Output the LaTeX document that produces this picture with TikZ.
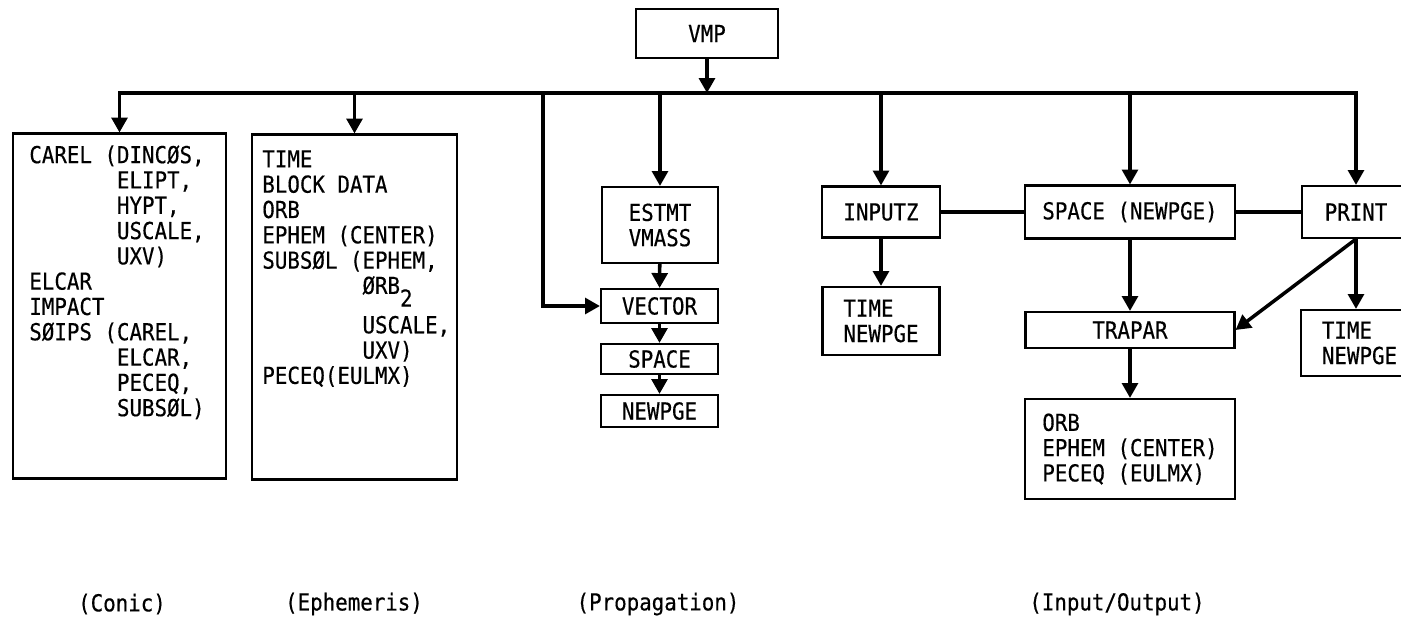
\documentclass[tikz,border=0pt]{standalone}
\usepackage{fontspec}
\usepackage{tikz}
\usetikzlibrary{arrows.meta}
\newfontfamily\vmpmono[FakeStretch=0.89,FakeBold=0.4]{DejaVu Sans Mono}
\newcommand\vmptext{\vmpmono\fontsize{13.3}{14.4}\selectfont\lineskiplimit=-20pt}
\tikzset{
  box/.style={draw, line width=1.2pt, rectangle, inner sep=0pt, font=\vmptext, align=left},
  listtxt/.style={inner sep=0pt, font=\vmptext, align=left, anchor=north west},
  flow/.style={line width=2pt, -{Triangle[length=8.5pt,width=9pt]}},
  link/.style={line width=2pt, line cap=rect},
}

\begin{document}
\begin{tikzpicture}[x=0.02cm, y=-0.02cm]
  \path[fill=white, use as bounding box] (0,0) rectangle (1401,630);

  % === top: main program and the bus ===
  \node[box, minimum width=2.84cm, minimum height=0.98cm] (vmp) at (707,33.5) {VMP};
  \coordinate (bus) at (0,93);
  \coordinate (tap) at (543,93);

  % === Conic ===
  \node[box, minimum width=4.26cm, minimum height=6.9cm] (conic) at (119.5,306) {};
  \node[listtxt] (conictxt) at (29,145) {CAREL (DINCØS,\\
    \phantom{CAREL (}ELIPT,\\
    \phantom{CAREL (}HYPT,\\
    \phantom{CAREL (}USCALE,\\
    \phantom{CAREL (}UXV)\\
    ELCAR\\
    IMPACT\\
    SØIPS (CAREL,\\
    \phantom{SØIPS (}ELCAR,\\
    \phantom{SØIPS (}PECEQ,\\
    \phantom{SØIPS (}SUBSØL)};

  % === Ephemeris ===
  \node[box, minimum width=4.1cm, minimum height=6.9cm] (ephem) at (354.5,307) {};
  \node[listtxt] (ephemtxt) at (262,150) {TIME\\
    BLOCK DATA\\
    ORB\\
    EPHEM (CENTER)\\
    SUBSØL (EPHEM,\\
    \phantom{SUBSØL (}ØRB\raisebox{-1ex}{2}\\[8pt]
    \phantom{SUBSØL (}USCALE,\\
    \phantom{SUBSØL (}UXV)\\
    PECEQ(EULMX)};

  % === Propagation ===
  \node[box, minimum width=2.32cm, minimum height=1.52cm] (estmt) at (660,225) {ESTMT\\VMASS};
  \node[box, minimum width=2.34cm, minimum height=0.68cm] (vector) at (659.5,306) {VECTOR};
  \node[box, minimum width=2.34cm, minimum height=0.6cm] (spc) at (659.5,359) {SPACE};
  \node[box, minimum width=2.34cm, minimum height=0.64cm] (npg) at (659.5,411) {NEWPGE};

  % === Input/Output ===
  \node[box, minimum width=2.36cm, minimum height=1.02cm] (inputz) at (881,212) {INPUTZ};
  \node[box, minimum width=2.34cm, minimum height=1.36cm] (timea) at (881,321) {TIME\\NEWPGE};
  \node[box, minimum width=4.2cm, minimum height=1.06cm] (spacenp) at (1130,212) {SPACE (NEWPGE)};
  \node[box, minimum width=2.16cm, minimum height=1.04cm] (print) at (1356,212) {PRINT};
  \node[box, minimum width=4.18cm, minimum height=0.72cm] (trapar) at (1130,330) {TRAPAR};
  \node[box, minimum width=2.34cm, minimum height=1.32cm] (timeb) at (1359.5,343) {TIME\\NEWPGE};
  \node[box, minimum width=4.2cm, minimum height=2cm] (orb) at (1130,449) {ORB\\EPHEM (CENTER)\\PECEQ (EULMX)};

  % bus and branches
  \draw[link] (conic.north |- bus) -- (print.north |- bus);
  \draw[flow] (vmp) -- (vmp.south |- bus);
  \draw[flow] (conic.north |- bus) -- (conic.north);
  \draw[flow] (ephem.north |- bus) -- (ephem.north);
  \draw[flow] (tap) |- (vector.west);
  \draw[flow] (estmt.north |- bus) -- (estmt.north);
  \draw[flow] (inputz.north |- bus) -- (inputz.north);
  \draw[flow] (spacenp.north |- bus) -- (spacenp.north);
  \draw[flow] (print.north |- bus) -- (print.north);

  % propagation chain
  \draw[flow] (estmt) -- (vector);
  \draw[flow] (vector) -- (spc);
  \draw[flow] (spc) -- (npg);

  % input/output links
  \draw[flow] (inputz) -- (timea);
  \draw[link] (inputz) -- (spacenp);
  \draw[link] (spacenp) -- (print);
  \draw[flow] (spacenp) -- (trapar);
  \draw[flow] (trapar) -- (orb);
  \draw[flow] (print.south) -- (print.south |- timeb.north);
  \draw[flow] (print.south) -- (trapar.east);

  % group labels
  \node[font=\vmptext] (lblconic) at (122,604) {(Conic)};
  \node[font=\vmptext] (lblephem) at (354,604) {(Ephemeris)};
  \node[font=\vmptext] (lblprop) at (658,604) {(Propagation)};
  \node[font=\vmptext] (lblio) at (1117,604) {(Input/Output)};
\end{tikzpicture}
\end{document}
